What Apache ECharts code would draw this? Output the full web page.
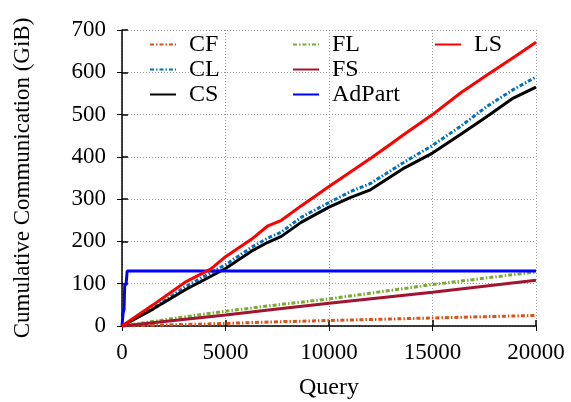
<!DOCTYPE html>
<html>
<head>
<meta charset="utf-8">
<script src="https://cdn.jsdelivr.net/npm/echarts@6/dist/echarts.min.js"></script>
<style>
html,body{margin:0;padding:0;background:#fff;}
#chart{width:571px;height:402px;}
</style>
</head>
<body>
<div id="chart"></div>
<script>
// Cumulative communication (GiB) against query count for each strategy
const seriesNames = ['CF', 'CL', 'CS', 'FL', 'FS', 'AdPart', 'LS'];

const cfData = [[0,0],[2500,3],[5000,6],[7500,10],[10000,13],[12500,16],[15000,19],[17500,22],[20000,25]];
const clData = [[0,0],[1500,42],[3100,94],[4000,118],[5000,145],[6250,186],[7050,208],[7700,222],[8650,257],[10000,292],[11050,318],[12000,337],[13650,388],[15000,427],[16350,472],[17650,520],[18900,559],[20000,589]];
const csData = [[0,0],[1500,40],[3100,87],[4000,110],[5000,136],[6250,177],[7050,198],[7700,212],[8650,245],[10000,281],[11050,304],[12000,322],[13650,374],[15000,409],[16350,453],[17650,496],[18900,539],[20000,565]];
const flData = [[0,0],[2500,18],[5000,35],[7500,50],[10000,64],[12500,81],[15000,98],[17500,113],[20000,128]];
const fsData = [[0,0],[2500,13],[5000,26],[7500,40],[10000,54],[12500,67],[15000,80],[17500,94],[20000,108]];
const adpartData = [[0,0],[50,30],[100,40],[130,95],[200,100],[250,130],[20000,130]];
const lsData = [[0,0],[1500,50],[3100,105],[4300,135],[5000,164],[6250,205],[7050,237],[7700,250],[8650,284],[10000,330],[11050,365],[12050,398],[13000,431],[13650,454],[15000,500],[16350,551],[17650,594],[19000,638],[20000,671]];

const xTicks = [0, 5000, 10000, 15000, 20000];
const yTicks = [0, 100, 200, 300, 400, 500, 600, 700];

const FONT = '"Liberation Serif", "DejaVu Serif", serif';
const dashDot = [4, 2, 1.5, 2];

const chart = echarts.init(document.getElementById('chart'));

function lineSeries(name, data, color, type) {
  return {
    name: name,
    type: 'line',
    data: data,
    symbol: 'none',
    showSymbol: false,
    xAxisIndex: 0,
    yAxisIndex: 0,
    lineStyle: { color: color, width: 3, type: type },
    itemStyle: { color: color },
    emphasis: { disabled: true },
    animation: false
  };
}

const legendBase = {
  orient: 'vertical',
  padding: 0,
  itemWidth: 26,
  itemHeight: 14,
  itemGap: 0,
  itemStyle: { opacity: 0 },
  textStyle: { fontFamily: FONT, fontSize: 24, color: '#000', lineHeight: 25, padding: [0, 0, 0, 8] },
  selectedMode: false
};

const option = {
  backgroundColor: '#fff',
  animation: false,
  grid: { left: 122, right: 35, top: 30, bottom: 76, outerBoundsMode: 'none', containLabel: false },
  legend: [
    Object.assign({}, legendBase, { left: 149, top: 32, data: [seriesNames[0], seriesNames[1], seriesNames[2]] }),
    Object.assign({}, legendBase, { left: 292, top: 32, data: [seriesNames[3], seriesNames[4], seriesNames[5]] }),
    Object.assign({}, legendBase, { left: 434, top: 32, data: [seriesNames[6]] })
  ],
  xAxis: [
    {
      type: 'value', min: xTicks[0], max: xTicks[xTicks.length - 1], interval: 5000,
      name: 'Query', nameLocation: 'middle', nameGap: 50,
      nameTextStyle: { fontFamily: FONT, fontSize: 24, color: '#000' },
      axisLine: { show: true, lineStyle: { color: '#000', width: 1.5 } },
      axisTick: { show: true, inside: true, length: 6, lineStyle: { color: '#000', width: 1.5 } },
      axisLabel: { fontFamily: FONT, fontSize: 23, color: '#000', margin: 15, formatter: v => String(v) },
      splitLine: { show: true, lineStyle: { color: '#999', type: [1, 2], width: 1 } }
    },
    {
      type: 'value', position: 'top', min: xTicks[0], max: xTicks[xTicks.length - 1], interval: 5000,
      axisLine: { show: false },
      axisTick: { show: true, inside: true, length: 5, lineStyle: { color: '#000', width: 1 } },
      axisLabel: { show: false },
      splitLine: { show: false }
    }
  ],
  yAxis: [
    {
      type: 'value', min: yTicks[0], max: yTicks[yTicks.length - 1], interval: 100,
      name: 'Cumulative Communication (GiB)', nameLocation: 'middle', nameGap: 88,
      nameTextStyle: { fontFamily: FONT, fontSize: 23, color: '#000' },
      axisLine: { show: true, lineStyle: { color: '#000', width: 1.5 } },
      axisTick: { show: true, inside: true, length: 6, lineStyle: { color: '#000', width: 1.5 } },
      axisLabel: { fontFamily: FONT, fontSize: 23, color: '#000', margin: 16, formatter: v => String(v) },
      splitLine: { show: true, lineStyle: { color: '#999', type: [1, 2], width: 1 } }
    },
    {
      type: 'value', position: 'right', min: yTicks[0], max: yTicks[yTicks.length - 1], interval: 100,
      axisLine: { show: false },
      axisTick: { show: true, inside: true, length: 5, lineStyle: { color: '#000', width: 1 } },
      axisLabel: { show: false },
      splitLine: { show: false }
    }
  ],
  series: [
    lineSeries('CF', cfData, '#d95319', dashDot),
    lineSeries('CL', clData, '#0072bd', dashDot),
    lineSeries('CS', csData, '#000000', 'solid'),
    lineSeries('FL', flData, '#77ac30', dashDot),
    lineSeries('FS', fsData, '#a2142f', 'solid'),
    lineSeries('AdPart', adpartData, '#0000ff', 'solid'),
    lineSeries('LS', lsData, '#ff0000', 'solid')
  ]
};

chart.setOption(option);
</script>
</body>
</html>
